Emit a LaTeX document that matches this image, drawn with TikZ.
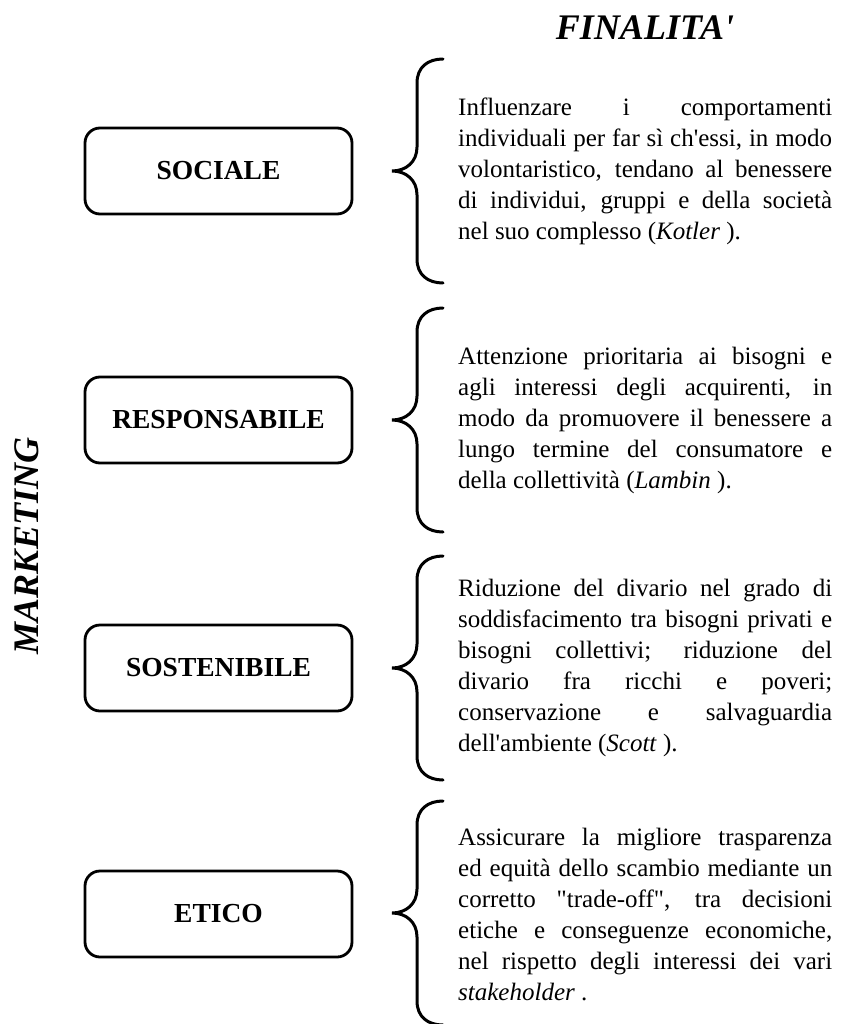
\documentclass[tikz,border=0pt]{standalone}
\usepackage{fontspec}
\setmainfont{Liberation Serif}

\begin{document}
\begin{tikzpicture}[x = 1pt, y = -1pt]
	\tikzstyle{boxStyle}=[shape = rectangle, rounded corners = 15pt, draw, line width = 2.8pt, minimum width = 267pt, minimum height = 86pt, font = \fontsize{27.5}{30}\selectfont\bfseries]
	\tikzstyle{textStyle}=[anchor = west, inner sep = 0pt, text width = 374pt, align = justify, font = {\fontsize{25}{31}\selectfont\hyphenpenalty=10000\relax\tolerance=10000\relax}]
	\tikzstyle{titleStyle}=[inner sep = 0pt, font = \fontsize{36}{40}\selectfont\bfseries\itshape]
	\tikzstyle{braceStyle}=[line width = 3pt, line cap = round]
	\tikzset{curly/.pic = {\draw[braceStyle] (51,-112) .. controls (36,-112) and (25,-104) .. (25,-88) -- (25,-24) .. controls (25,-9) and (14,0) .. (0,0) .. controls (14,0) and (25,9) .. (25,24) -- (25,88) .. controls (25,104) and (36,112) .. (51,112);}}
	\useasboundingbox (0,0) rectangle (843,1024);
	\node[titleStyle, anchor = base] (finalita) at (645,40) {FINALITA\textquotesingle};
	\node[titleStyle, rotate = 90] (marketing) at (27,546) {MARKETING};
	% sociale
	\node[boxStyle] (sociale) at (218.5,171) {SOCIALE};
	\pic (braceSociale) at (392,171) {curly};
	\node[textStyle] (finSociale) at (458,171) {Influenzare i comportamenti\linebreak individuali per far sì ch\textquotesingle essi, in modo\linebreak volontaristico, tendano al benessere\linebreak di individui, gruppi e della società\linebreak nel suo complesso (\textit{Kotler} ).};
	% responsabile
	\node[boxStyle] (responsabile) at (218.5,420) {RESPONSABILE};
	\pic (braceResponsabile) at (392,420) {curly};
	\node[textStyle] (finResponsabile) at (458,420) {Attenzione prioritaria ai bisogni e\linebreak agli interessi degli acquirenti, in\linebreak modo da promuovere il benessere a\linebreak lungo termine del consumatore e\linebreak della collettività (\textit{Lambin} ).};
	% sostenibile
	\node[boxStyle] (sostenibile) at (218.5,668) {SOSTENIBILE};
	\pic (braceSostenibile) at (392,668) {curly};
	\node[textStyle] (finSostenibile) at (458,668) {Riduzione del divario nel grado di\linebreak soddisfacimento tra bisogni privati e\linebreak bisogni collettivi; riduzione del\linebreak divario fra ricchi e poveri;\linebreak conservazione e salvaguardia\linebreak dell\textquotesingle ambiente (\textit{Scott} ).};
	% etico
	\node[boxStyle] (etico) at (218.5,914) {ETICO};
	\pic (braceEtico) at (392,913) {curly};
	\node[textStyle] (finEtico) at (458,914) {Assicurare la migliore trasparenza\linebreak ed equità dello scambio mediante un\linebreak corretto \textquotedbl trade-off\textquotedbl, tra decisioni\linebreak etiche e conseguenze economiche,\linebreak nel rispetto degli interessi dei vari\linebreak \textit{stakeholder} .};
\end{tikzpicture}
\end{document}
